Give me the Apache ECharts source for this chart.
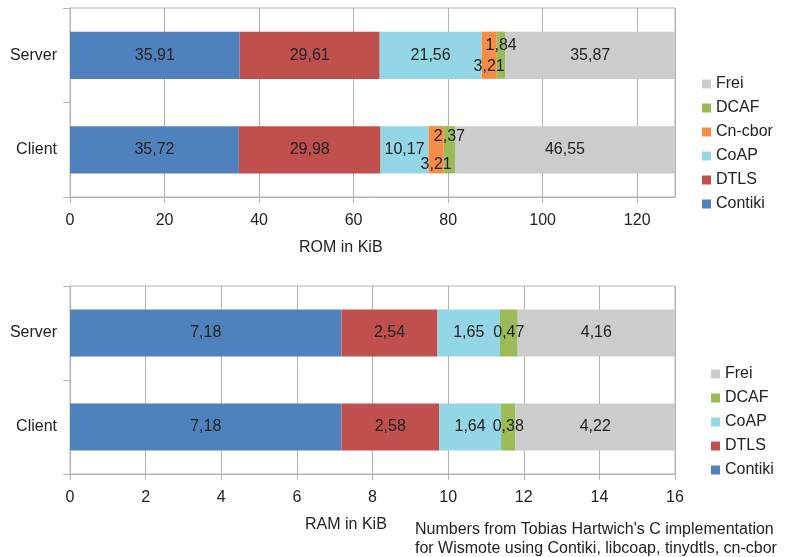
<!DOCTYPE html>
<html>
<head>
<meta charset="utf-8">
<script src="https://cdn.jsdelivr.net/npm/echarts@6/dist/echarts.min.js"></script>
<style>
html,body{margin:0;padding:0;background:#fff;}
#c{width:786px;height:557px;}
</style>
</head>
<body>
<div id="c"></div>
<script>
// ---- data ----
var categories = ['Server', 'Client'];

var romContiki = [35.91, 35.72];
var romDTLS    = [29.61, 29.98];
var romCoAP    = [21.56, 10.17];
var romCnCbor  = [3.21, 3.21];
var romDCAF    = [1.84, 2.37];
var romFrei    = [35.87, 46.55];

var ramContiki = [7.18, 7.18];
var ramDTLS    = [2.54, 2.58];
var ramCoAP    = [1.65, 1.64];
var ramDCAF    = [0.47, 0.38];
var ramFrei    = [4.16, 4.22];

var romTicks = [0, 20, 40, 60, 80, 100, 120];
var ramTicks = [0, 2, 4, 6, 8, 10, 12, 14, 16];

var romLegend = ['Frei', 'DCAF', 'Cn-cbor', 'CoAP', 'DTLS', 'Contiki'];
var ramLegend = ['Frei', 'DCAF', 'CoAP', 'DTLS', 'Contiki'];

// ---- styles ----
var colors = {
  'Contiki': '#4f81bd',
  'DTLS': '#c0504d',
  'CoAP': '#93d6e6',
  'Cn-cbor': '#f68d47',
  'DCAF': '#9bbb59',
  'Frei': '#cccccc'
};
var FONT = '"Liberation Sans", Arial, sans-serif';
var TXT = '#222';
var GRID = '#b3b3b3';

function fmt(v) { return String(v.toFixed(2)).replace('.', ','); }

function makeSeries(name, values, idx, stack, offsets) {
  return {
    name: name,
    type: 'bar',
    stack: stack,
    xAxisIndex: idx,
    yAxisIndex: idx,
    barWidth: '50%',
    itemStyle: { color: colors[name] },
    label: {
      show: true,
      position: 'inside',
      color: TXT,
      fontFamily: FONT,
      fontSize: 16,
      formatter: function (p) { return fmt(p.value); }
    },
    data: values.map(function (v, i) {
      var d = { value: v };
      if (offsets) d.label = { offset: offsets[i] };
      return d;
    }),
    emphasis: { disabled: true }
  };
}

function xAxis(idx, max, interval, ticks) {
  return {
    gridIndex: idx,
    type: 'value',
    min: 0,
    max: max,
    interval: interval,
    axisLine: { show: true, lineStyle: { color: GRID } },
    axisTick: { show: true, length: 6, lineStyle: { color: GRID } },
    splitLine: { show: true, lineStyle: { color: GRID, width: 1 } },
    axisLabel: {
      color: TXT, fontFamily: FONT, fontSize: 16, margin: 16,
      showMaxLabel: (max % interval === 0),
      formatter: function (v) { return ticks.indexOf(v) >= 0 ? String(v) : ''; }
    }
  };
}

function yAxis(idx) {
  return {
    gridIndex: idx,
    type: 'category',
    data: categories,
    inverse: true,
    axisLine: { show: true, lineStyle: { color: GRID } },
    axisTick: { show: true, length: 7, lineStyle: { color: GRID } },
    splitLine: { show: false },
    axisLabel: { color: TXT, fontFamily: FONT, fontSize: 16, margin: 13, padding: [3, 0, 0, 0] }
  };
}

var chart = echarts.init(document.getElementById('c'), null, { renderer: 'canvas' });

var option = {
  animation: false,
  backgroundColor: '#fff',
  textStyle: { fontFamily: FONT },
  grid: [
    { left: 70, top: 8, width: 605, height: 189, show: true, borderColor: GRID, borderWidth: 1, backgroundColor: 'transparent' },
    { left: 70, top: 286, width: 605, height: 188, show: true, borderColor: GRID, borderWidth: 1, backgroundColor: 'transparent' }
  ],
  xAxis: [xAxis(0, 128, 20, romTicks), xAxis(1, 16, 2, ramTicks)],
  yAxis: [yAxis(0), yAxis(1)],
  legend: [
    {
      data: romLegend, orient: 'vertical', left: 697, top: 71,
      icon: 'rect', itemWidth: 9, itemHeight: 9, itemGap: 8,
      textStyle: { color: TXT, fontFamily: FONT, fontSize: 16, lineHeight: 16 },
      selectedMode: false
    },
    {
      data: ramLegend, orient: 'vertical', left: 706, top: 361,
      icon: 'rect', itemWidth: 9, itemHeight: 9, itemGap: 8,
      textStyle: { color: TXT, fontFamily: FONT, fontSize: 16, lineHeight: 16 },
      selectedMode: false
    }
  ],
  graphic: [
    { type: 'text', left: 299, top: 240, style: { text: 'ROM in KiB', fill: TXT, font: '16px ' + FONT } },
    { type: 'text', left: 305, top: 517, style: { text: 'RAM in KiB', fill: TXT, font: '16px ' + FONT } },
    { type: 'text', left: 415, top: 522, style: { text: "Numbers from Tobias Hartwich's C implementation", fill: TXT, font: '16px ' + FONT } },
    { type: 'text', left: 415, top: 541, style: { text: 'for Wismote using Contiki, libcoap, tinydtls, cn-cbor', fill: TXT, font: '16px ' + FONT } }
  ],
  series: [
    makeSeries('Contiki', romContiki, 0, 'rom'),
    makeSeries('DTLS', romDTLS, 0, 'rom'),
    makeSeries('CoAP', romCoAP, 0, 'rom'),
    makeSeries('Cn-cbor', romCnCbor, 0, 'rom', [[0, 11], [0, 15]]),
    makeSeries('DCAF', romDCAF, 0, 'rom', [[0, -10], [0, -13]]),
    makeSeries('Frei', romFrei, 0, 'rom'),
    makeSeries('Contiki', ramContiki, 1, 'ram'),
    makeSeries('DTLS', ramDTLS, 1, 'ram'),
    makeSeries('CoAP', ramCoAP, 1, 'ram'),
    makeSeries('DCAF', ramDCAF, 1, 'ram'),
    makeSeries('Frei', ramFrei, 1, 'ram')
  ]
};
chart.setOption(option);
</script>
</body>
</html>
